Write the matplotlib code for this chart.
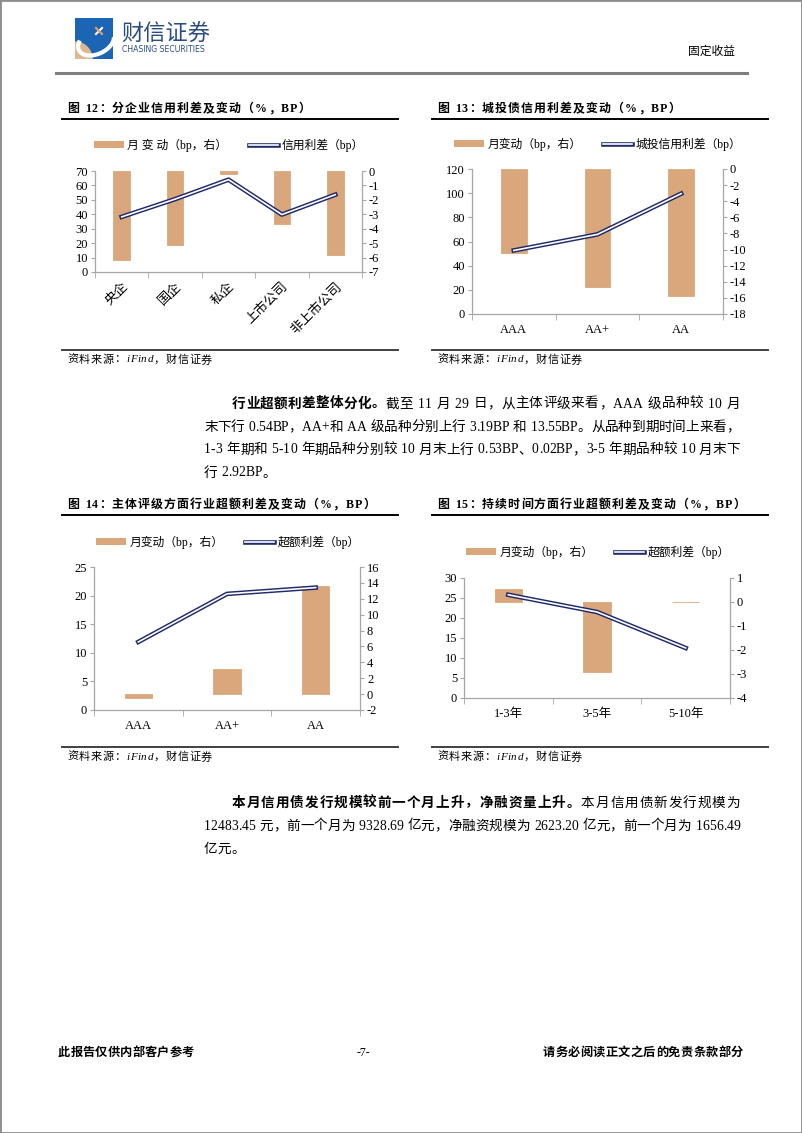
import numpy as np
import matplotlib
matplotlib.use('Agg')
import matplotlib.pyplot as plt
from matplotlib.lines import Line2D
from matplotlib.patches import Patch, Rectangle, Wedge, Arc

plt.rcParams['font.family'] = ['Liberation Serif', 'Noto Sans CJK SC']
plt.rcParams['axes.unicode_minus'] = False

BAR = '#D9A77B'
NAVY = '#1F2A6B'
AXC = '#A6A6A6'
LOGO_BLUE = '#2A4D7E'

# ---- data ----
ent_cats = ['央企', '国企', '私企', '上市公司', '非上市公司']
ent_change = [-6.2, -5.1, -0.2, -3.7, -5.8]       # bp, right axis
ent_spread = [38.2, 50.5, 64.0, 39.8, 53.6]       # left axis

city_cats = ['AAA', 'AA+', 'AA']
city_change = [-10.4, -14.7, -15.8]
city_spread = [52.6, 65.9, 99.6]

rating_cats = ['AAA', 'AA+', 'AA']
rating_change = [-0.54, 3.19, 13.55]
rating_excess = [11.9, 20.3, 21.4]

term_cats = ['1-3年', '3-5年', '5-10年']
term_change = [0.53, -2.92, 0.02]
term_excess = [25.8, 21.5, 12.5]

W, H = 802, 1133
fig = plt.figure(figsize=(W / 100, H / 100), dpi=100)
renderer = fig.canvas.get_renderer()


def fx(x):
    return x / W


def fy(y):
    return 1 - y / H


def add_ax(x0, y0, x1, y1):
    return fig.add_axes([fx(x0), fy(y1), (x1 - x0) / W, (y1 - y0) / H])


def hline(x0, x1, y, lw=1.0, color='black'):
    fig.add_artist(Line2D([fx(x0), fx(x1)], [fy(y), fy(y)],
                          transform=fig.transFigure, lw=lw, color=color))


def spread_text(y, parts, x0, x1=None, size=9.8, style='normal'):
    # lay out char by char; if x1 is given, stretch the line to end there
    chars = [(c, w) for s, w in parts for c in s]
    objs, widths = [], []
    for c, w in chars:
        if c == ' ':
            objs.append(None)
            widths.append(0.3 * size * 100 / 72)
            continue
        t = fig.text(0, fy(y), c, fontsize=size, fontweight=w, style=style,
                     va='center', ha='left')
        objs.append(t)
        widths.append(t.get_window_extent(renderer).width)
    gap = 0 if x1 is None else (x1 - x0 - sum(widths)) / (len(chars) - 1)
    x = x0
    for t, wd in zip(objs, widths):
        if t is not None:
            t.set_x(fx(x))
        x += wd + gap


def combo(rect, cats, change, spread, lim_l, step_l, lim_r, step_r,
          lab_bar, lab_line, leg_xy, rotate=False):
    ax = add_ax(*rect)
    ax2 = ax.twinx()
    x = np.arange(len(cats))
    ax2.bar(x, change, width=0.31, color=BAR, edgecolor=BAR, linewidth=0.6)
    ax.plot(x, spread, color=NAVY, lw=3.3)
    ax.plot(x, spread, color='white', lw=1.2)
    ax.set_zorder(ax2.get_zorder() + 1)
    ax.patch.set_visible(False)

    ax.set_xlim(-0.5, len(cats) - 0.5)
    ax.set_ylim(*lim_l)
    ax.set_yticks(np.arange(lim_l[0], lim_l[1] + 1, step_l))
    ax2.set_ylim(*lim_r)
    ax2.set_yticks(np.arange(lim_r[0], lim_r[1] + 1, step_r))

    for s in ['top', 'right']:
        ax.spines[s].set_visible(False)
    for s in ['top', 'left', 'bottom']:
        ax2.spines[s].set_visible(False)
    for sp in [ax.spines['left'], ax.spines['bottom'], ax2.spines['right']]:
        sp.set_color(AXC)
        sp.set_linewidth(0.9)

    ax.tick_params(axis='y', length=3, color=AXC, labelsize=9, pad=2)
    ax2.tick_params(axis='y', length=3, color=AXC, labelsize=9, pad=2)
    ax.set_xticks(x)
    if rotate:
        ax.set_xticklabels(cats, rotation=45, ha='right', va='top',
                           rotation_mode='anchor', fontsize=9.5)
        ax.tick_params(axis='x', which='major', length=0, pad=6)
    else:
        ax.set_xticklabels(cats)
        ax.tick_params(axis='x', which='major', length=0, labelsize=9, pad=7)
    ax.set_xticks(np.arange(len(cats) + 1) - 0.5, minor=True)
    ax.tick_params(axis='x', which='minor', length=4, color=AXC)

    handles = [Patch(facecolor=BAR, edgecolor='none'),
               (Line2D([], [], color=NAVY, lw=3.3), Line2D([], [], color='white', lw=1.2))]
    ax.legend(handles, [lab_bar, lab_line], loc='center',
              bbox_to_anchor=(fx(leg_xy[0]), fy(leg_xy[1])),
              bbox_transform=fig.transFigure, ncol=2, frameon=False,
              fontsize=8.5, handlelength=2.5, handleheight=0.45,
              columnspacing=1.8, handletextpad=0.3)
    return ax, ax2


# ---- page frame and header ----
fig.add_artist(Rectangle((0, 0), 1, 1, transform=fig.transFigure, fill=False,
                         edgecolor='#8C8C8C', lw=2))
logo = add_ax(75, 18, 113, 59)
logo.set_xlim(0, 38)
logo.set_ylim(0, 41)
logo.axis('off')
logo.add_patch(Rectangle((0, 0), 38, 41, color='#1C64B4'))
logo.add_patch(Wedge((0, 0), 17, 0, 90, color='#DDB992'))
logo.add_patch(Arc((21, 17), 38, 24, angle=25, theta1=150, theta2=350,
                   color='white', lw=3))
logo.plot([21, 27], [25, 31], color='white', lw=1.5)
logo.plot([21, 27], [31, 25], color='#E8A060', lw=1.5)
fig.text(fx(121), fy(34), '财信证券', fontsize=16, color=LOGO_BLUE,
         family='Noto Sans CJK SC', va='center', ha='left')
fig.text(fx(122), fy(50), 'CHASING SECURITIES', fontsize=5.6, color=LOGO_BLUE,
         family='DejaVu Sans', va='center', ha='left')
fig.text(fx(735), fy(52), '固定收益', fontsize=8.5, va='center', ha='right')
hline(56, 747, 73, lw=2.2, color='#7F7F7F')

# ---- row 1 ----
spread_text(109, [('图 12：分企业信用利差及变动（%，BP）', 'bold')], 67, 310, size=8.6)
spread_text(109, [('图 13：城投债信用利差及变动（%，BP）', 'bold')], 437, 680, size=8.6)
hline(62, 398, 119, lw=1.4)
hline(432, 768, 119, lw=1.4)

combo((95, 171, 362, 272), ent_cats, ent_change, ent_spread,
      (0, 70), 10, (-7, 0), 1, '月 变 动（bp，右）', '信用利差（bp）',
      (229, 145), rotate=True)
combo((472, 169, 723, 314), city_cats, city_change, city_spread,
      (0, 120), 20, (-18, 0), 2, '月变动（bp，右）', '城投信用利差（bp）',
      (598, 144))

hline(62, 398, 350, lw=1.4, color='#404040')
hline(432, 768, 350, lw=1.4, color='#404040')
spread_text(360, [('资料来源：iFind，财信证券', 'normal')], 67, 212, size=8, style='italic')
spread_text(360, [('资料来源：iFind，财信证券', 'normal')], 437, 582, size=8, style='italic')

# ---- paragraph 1 ----
spread_text(404, [('行业超额利差整体分化。', 'bold'),
                  ('截至 11 月 29 日，从主体评级来看，AAA 级品种较 10 月', 'normal')], 232, 740)
spread_text(427, [('末下行 0.54BP，AA+和 AA 级品种分别上行 3.19BP 和 13.55BP。从品种到期时间上来看，', 'normal')], 204, 740)
spread_text(450, [('1-3 年期和 5-10 年期品种分别较 10 月末上行 0.53BP、0.02BP，3-5 年期品种较 10 月末下', 'normal')], 204, 740)
spread_text(473, [('行 2.92BP。', 'normal')], 204)

# ---- row 2 ----
spread_text(505, [('图 14：主体评级方面行业超额利差及变动（%，BP）', 'bold')], 67, 375, size=8.6)
spread_text(505, [('图 15：持续时间方面行业超额利差及变动（%，BP）', 'bold')], 437, 745, size=8.6)
hline(62, 398, 515, lw=1.4)
hline(432, 768, 515, lw=1.4)

combo((94, 567, 360, 710), rating_cats, rating_change, rating_excess,
      (0, 25), 5, (-2, 16), 2, '月变动（bp，右）', '超额利差（bp）',
      (228, 542))
combo((464, 578, 730, 698), term_cats, term_change, term_excess,
      (0, 30), 5, (-4, 1), 1, '月变动（bp，右）', '超额利差（bp）',
      (598, 552))

hline(62, 398, 747, lw=1.4, color='#404040')
hline(432, 768, 747, lw=1.4, color='#404040')
spread_text(757, [('资料来源：iFind，财信证券', 'normal')], 67, 212, size=8, style='italic')
spread_text(757, [('资料来源：iFind，财信证券', 'normal')], 437, 582, size=8, style='italic')

# ---- paragraph 2 ----
spread_text(803, [('本月信用债发行规模较前一个月上升，净融资量上升。', 'bold'),
                  ('本月信用债新发行规模为', 'normal')], 232, 740)
spread_text(826, [('12483.45 元，前一个月为 9328.69 亿元，净融资规模为 2623.20 亿元，前一个月为 1656.49', 'normal')], 204, 740)
spread_text(849, [('亿元。', 'normal')], 204)

# ---- footer ----
spread_text(1053, [('此报告仅供内部客户参考', 'bold')], 58, 194, size=8.8)
fig.text(fx(363), fy(1053), '-7-', fontsize=8.5, va='center', ha='center')
spread_text(1053, [('请务必阅读正文之后的免责条款部分', 'bold')], 543, 743, size=8.8)

fig.savefig('out.png', dpi=100)
